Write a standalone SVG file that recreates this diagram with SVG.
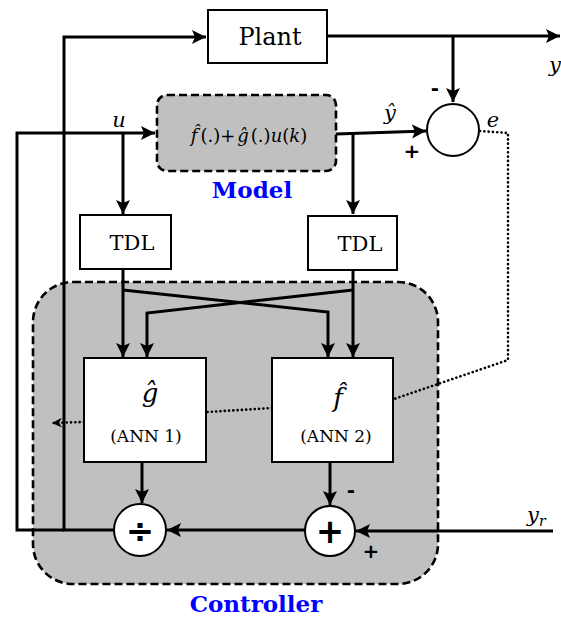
<svg xmlns="http://www.w3.org/2000/svg" width="561" height="617" viewBox="0 0 561 617">
<style>
.ln{fill:none;stroke:#000;stroke-width:3}
.box{fill:#fff;stroke:#000;stroke-width:2}
.dash{fill:#c0c0c0;stroke:#000;stroke-width:2.6;stroke-dasharray:8 4}
.dot{fill:none;stroke:#000;stroke-width:2.6;stroke-dasharray:0.1 4.2;stroke-linecap:round}
.circ{fill:#fff;stroke:#000;stroke-width:2}
text{font-family:'DejaVu Serif',serif;fill:#000}
.i{font-style:italic}
.blue{font-weight:bold;fill:#0000ff;font-size:23px;text-anchor:middle}
.sign{font-family:'DejaVu Sans',sans-serif;font-weight:bold}
</style>
<defs>
<marker id="ar" markerUnits="userSpaceOnUse" markerWidth="16" markerHeight="16" refX="14" refY="7" orient="auto">
<path d="M0,0 L14,7 L0,14 L3,7 z" fill="#000"/>
</marker>
<marker id="ars" markerUnits="userSpaceOnUse" markerWidth="12" markerHeight="12" refX="10" refY="5" orient="auto">
<path d="M0,0 L10,5 L0,10 L3,5 z" fill="#000"/>
</marker>
</defs>

<g id="controller">
<rect class="dash" x="33" y="282" width="405" height="302" rx="40" ry="40"/>
<text class="blue" x="256" y="612">Controller</text>
</g>

<g id="connectors">
<polyline class="ln" points="114,530 64,530 64,37 206,37" marker-end="url(#ar)"/>
<polyline class="ln" points="64,530 17,530 17,133 155,133" marker-end="url(#ar)"/>
<line class="ln" x1="123" y1="133" x2="123" y2="214" marker-end="url(#ar)"/>
<line class="ln" x1="327" y1="36" x2="560" y2="36" marker-end="url(#ar)"/>
<line class="ln" x1="453" y1="36" x2="453" y2="102" marker-end="url(#ar)"/>
<line class="ln" x1="336" y1="134" x2="426" y2="131" marker-end="url(#ar)"/>
<line class="ln" x1="353" y1="134" x2="353" y2="214" marker-end="url(#ar)"/>
<line class="ln" x1="123" y1="269" x2="123" y2="357" marker-end="url(#ar)"/>
<polyline class="ln" points="123,290 328,312 328,357" marker-end="url(#ar)"/>
<line class="ln" x1="353" y1="270" x2="353" y2="357" marker-end="url(#ar)"/>
<polyline class="ln" points="353,290 147,313 147,357" marker-end="url(#ar)"/>
<line class="ln" x1="142" y1="462" x2="142" y2="503" marker-end="url(#ar)"/>
<line class="ln" x1="330" y1="462" x2="330" y2="505" marker-end="url(#ar)"/>
<line class="ln" x1="305" y1="530" x2="167" y2="530" marker-end="url(#ar)"/>
<line class="ln" x1="553" y1="531" x2="356" y2="531" marker-end="url(#ar)"/>
<polyline class="dot" points="480,131 508,133 508,360 394,399"/>
<line class="dot" x1="272" y1="408" x2="207" y2="412"/>
<line class="dot" x1="84" y1="422" x2="52" y2="423" marker-end="url(#ars)"/>
</g>

<g id="plant">
<rect class="box" x="208" y="10" width="119" height="53"/>
<text x="270" y="45" font-size="24" text-anchor="middle">Plant</text>
</g>

<g id="model">
<rect class="dash" x="157" y="95" width="179" height="76" rx="10" ry="10"/>
<text x="249" y="142" font-size="18" fill="#333" text-anchor="middle"><tspan class="i">f̂</tspan><tspan dx="3">(.)+</tspan><tspan class="i" dx="2">ĝ</tspan><tspan dx="2">(.)</tspan><tspan class="i">u</tspan>(<tspan class="i">k</tspan>)</text>
<text class="blue" x="252" y="198">Model</text>
</g>

<g id="tdl1">
<rect class="box" x="80" y="215" width="91" height="54"/>
<text x="132" y="250" font-size="21" text-anchor="middle">TDL</text>
</g>
<g id="tdl2">
<rect class="box" x="308" y="216" width="89" height="54"/>
<text x="360" y="251" font-size="21" text-anchor="middle">TDL</text>
</g>

<g id="ann1">
<rect class="box" x="84" y="358" width="122" height="104"/>
<text class="i" x="150" y="402" font-size="26" text-anchor="middle">ĝ</text>
<text x="146" y="442" font-size="17" text-anchor="middle">(ANN 1)</text>
</g>

<g id="ann2">
<rect class="box" x="272" y="358" width="121" height="104"/>
<text class="i" x="338" y="407" font-size="26" text-anchor="middle">f̂</text>
<text x="336" y="442" font-size="17" text-anchor="middle">(ANN 2)</text>
</g>

<g id="error_sum">
<circle class="circ" cx="453" cy="130" r="26"/>
</g>

<g id="divide">
<circle class="circ" cx="140" cy="530" r="26"/>
<text class="sign" x="140" y="542" font-size="34" text-anchor="middle">÷</text>
</g>

<g id="sum">
<circle class="circ" cx="330" cy="531" r="25"/>
<text class="sign" x="330" y="543" font-size="34" text-anchor="middle">+</text>
</g>

<g id="labels">
<text class="i" x="119" y="127" font-size="21" text-anchor="middle">u</text>
<text class="i" x="390" y="120" font-size="21" text-anchor="middle">ŷ</text>
<text class="i" x="493" y="127" font-size="21" text-anchor="middle">e</text>
<text class="i" x="549" y="72" font-size="21">y</text>
<text class="sign" x="435" y="95" font-size="20" text-anchor="middle">-</text>
<text class="sign" x="412" y="158" font-size="20" text-anchor="middle">+</text>
<text class="sign" x="351" y="497" font-size="20" text-anchor="middle">-</text>
<text class="sign" x="371" y="558" font-size="20" text-anchor="middle">+</text>
<text class="i" x="527" y="522" font-size="21">y<tspan font-size="14" dy="4">r</tspan></text>
</g>
</svg>
